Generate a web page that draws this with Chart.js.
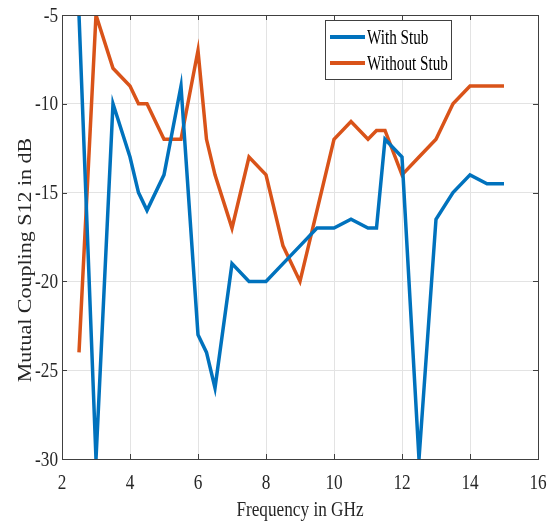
<!DOCTYPE html>
<html>
<head>
<meta charset="utf-8">
<script src="https://cdn.jsdelivr.net/npm/chart.js@4"></script>
<style>
  html, body { margin: 0; padding: 0; background: #fff; }
  #wrap { width: 553px; height: 525px; position: relative; }
</style>
</head>
<body>
<div id="wrap"><canvas id="chart"></canvas></div>
<script>
// Frequency points (GHz)
const freqs = [2.5, 3, 3.5, 4, 4.25, 4.5, 5, 5.5, 6, 6.25, 6.5, 7, 7.5, 8, 8.5, 9, 9.5, 10, 10.5, 11, 11.25, 11.5, 12, 12.5, 13, 13.5, 14, 14.5, 15];
// S12 (dB) values
const withStub = [-5, -30, -10, -13, -15, -16, -14, -9, -23, -24, -26, -19, -20, -20, -19, -18, -17, -17, -16.5, -17, -17, -12, -13, -30, -16.5, -15, -14, -14.5, -14.5];
const withoutStub = [-24, -5, -8, -9, -10, -10, -12, -12, -7, -12, -14, -17, -13, -14, -18, -20, -16, -12, -11, -12, -11.5, -11.5, -14, -13, -12, -10, -9, -9, -9];
const xTicks = [2, 4, 6, 8, 10, 12, 14, 16];
const yTicks = [-30, -25, -20, -15, -10, -5];

const seriesLabels = ['With Stub', 'Without Stub'];
const seriesColors = ['#0072BD', '#D95319'];
const xTitle = 'Frequency in GHz';
const yTitle = 'Mutual Coupling S12 in dB';
const font = "'Liberation Serif', 'DejaVu Serif', serif";
const textColor = '#262626';

// the reference text looks squeezed sideways, so draw it a bit narrow
function drawText(ctx, str, x, y, size, align, sx, rotate) {
    ctx.save();
    ctx.translate(x, y);
    ctx.scale(sx, 1);
    if (rotate) ctx.rotate(-Math.PI / 2);
    ctx.font = size + 'px ' + font;
    ctx.textAlign = align;
    ctx.fillText(str, 0, 0);
    ctx.restore();
}

// MATLAB-like box, inward ticks, labels and inside legend
const boxPlugin = {
    id: 'box',
    afterDraw(chart) {
        const ctx = chart.ctx;
        const a = chart.chartArea;
        const xs = chart.scales.x, ys = chart.scales.y;
        ctx.save();
        ctx.strokeStyle = '#404040';
        ctx.lineWidth = 1;
        ctx.strokeRect(a.left + 0.5, a.top + 0.5, a.right - a.left, a.bottom - a.top);
        const tl = 5;
        ctx.beginPath();
        xTicks.forEach(v => {
            const px = Math.round(xs.getPixelForValue(v)) + 0.5;
            ctx.moveTo(px, a.bottom); ctx.lineTo(px, a.bottom - tl);
            ctx.moveTo(px, a.top); ctx.lineTo(px, a.top + tl);
        });
        yTicks.forEach(v => {
            const py = Math.round(ys.getPixelForValue(v)) + 0.5;
            ctx.moveTo(a.left, py); ctx.lineTo(a.left + tl, py);
            ctx.moveTo(a.right, py); ctx.lineTo(a.right - tl, py);
        });
        ctx.stroke();

        // tick labels and titles
        ctx.fillStyle = textColor;
        ctx.textBaseline = 'middle';
        xTicks.forEach(v => drawText(ctx, String(v), xs.getPixelForValue(v), a.bottom + 24, 21, 'center', 0.82));
        yTicks.forEach(v => drawText(ctx, String(v), a.left - 4, ys.getPixelForValue(v) + 1, 21, 'right', 0.82));
        ctx.textBaseline = 'alphabetic';
        drawText(ctx, xTitle, (a.left + a.right) / 2, a.bottom + 57, 21, 'center', 0.82);
        drawText(ctx, yTitle, 31, (a.top + a.bottom) / 2 + 23, 22, 'center', 0.82, true);

        // legend
        const lx = 325, ly = 20, lw = 126, lh = 59;
        ctx.fillStyle = '#fff';
        ctx.fillRect(lx, ly, lw, lh);
        ctx.strokeStyle = '#404040';
        ctx.lineWidth = 1;
        ctx.strokeRect(lx + 0.5, ly + 0.5, lw, lh);
        ctx.textBaseline = 'alphabetic';
        seriesLabels.forEach((lab, i) => {
            const yy = ly + 17 + i * 26;
            ctx.strokeStyle = seriesColors[i];
            ctx.lineWidth = 4;
            ctx.beginPath();
            ctx.moveTo(lx + 5, yy); ctx.lineTo(lx + 40, yy);
            ctx.stroke();
            ctx.fillStyle = '#000';
            drawText(ctx, lab, lx + 42, yy + 7, 20, 'left', 0.76);
        });
        ctx.restore();
    }
};

const ctx = document.getElementById('chart').getContext('2d');
new Chart(ctx, {
    type: 'line',
    data: {
        labels: freqs,
        datasets: [
            { label: seriesLabels[0], data: freqs.map((f, i) => ({ x: f, y: withStub[i] })), borderColor: seriesColors[0], borderWidth: 3.5, pointRadius: 0, tension: 0, fill: false },
            { label: seriesLabels[1], data: freqs.map((f, i) => ({ x: f, y: withoutStub[i] })), borderColor: seriesColors[1], borderWidth: 3.5, pointRadius: 0, tension: 0, fill: false }
        ]
    },
    options: {
        responsive: true,
        maintainAspectRatio: false,
        animation: false,
        layout: { padding: { top: 15, right: 15, left: 0, bottom: 0 } },
        plugins: {
            legend: { display: false },
            tooltip: { enabled: false }
        },
        scales: {
            x: {
                type: 'linear',
                min: 2, max: 16,
                afterBuildTicks: s => { s.ticks = xTicks.map(v => ({ value: v })); },
                afterFit: s => { s.height = 66; },
                grid: { color: '#e3e3e3', drawTicks: false },
                border: { display: false },
                ticks: { display: false }
            },
            y: {
                min: -30, max: -5,
                afterBuildTicks: s => { s.ticks = yTicks.map(v => ({ value: v })); },
                afterFit: s => { s.width = 62; },
                grid: { color: '#e3e3e3', drawTicks: false },
                border: { display: false },
                ticks: { display: false }
            }
        }
    },
    plugins: [boxPlugin]
});
</script>
</body>
</html>
